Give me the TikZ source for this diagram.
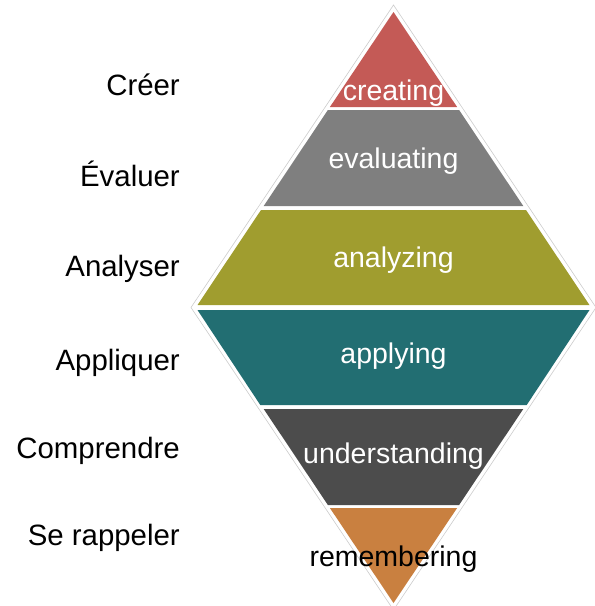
\documentclass[tikz,border=0pt]{standalone}
\usepackage{fontspec}
\setmainfont{Liberation Sans}
\usetikzlibrary{positioning}
\definecolor{creatingred}{HTML}{C45A56}
\definecolor{evalgray}{HTML}{7F7F7F}
\definecolor{analyzeolive}{HTML}{A09D2F}
\definecolor{applyteal}{HTML}{226E72}
\definecolor{understandgray}{HTML}{4C4C4C}
\definecolor{rememberorange}{HTML}{C98040}
\tikzset{
	frlabel/.style={anchor=base east, inner sep=0pt, font=\fontsize{29.4}{33}\selectfont, text=black},
	enlabel/.style={anchor=base, inner sep=0pt, font=\fontsize{28.5}{32}\selectfont, text=white},
}

\begin{document}
\begin{tikzpicture}[x=1pt, y=-1pt]
			%%%%% START %%%%%
			\useasboundingbox (0, 0) rectangle (595, 606);
			
			% thin outline round the diamond
			\draw[line width=0.6pt, color=black!20] (393.5, 5) -- (596, 307.5) -- (393.5, 610) -- (191, 307.5) -- cycle;
			
			% upper half
			\fill[creatingred] (393.5, 12) -- (457.1, 107) -- (329.9, 107) -- cycle;
			\fill[evalgray] (327.9, 110) -- (459.1, 110) -- (523.3, 206) -- (263.7, 206) -- cycle;
			\fill[analyzeolive] (261, 210) -- (526, 210) -- (589.5, 305) -- (197.5, 305) -- cycle;
			
			% lower half
			\fill[applyteal] (197.5, 310) -- (589.5, 310) -- (526.7, 405) -- (260.3, 405) -- cycle;
			\fill[understandgray] (263.7, 409) -- (523.3, 409) -- (459.1, 505) -- (327.9, 505) -- cycle;
			\fill[rememberorange] (329.9, 508) -- (457.1, 508) -- (393.5, 603) -- cycle;
			
			% level names
			\node[enlabel] (creating) at (393.5, 100) {creating};
			\node[enlabel] (evaluating) at (393.5, 168) {evaluating};
			\node[enlabel] (analyzing) at (393.5, 267.5) {analyzing};
			\node[enlabel] (applying) at (393.5, 363) {applying};
			\node[enlabel] (understanding) at (393.5, 463) {understanding};
			\node[enlabel, text=black] (remembering) at (393.5, 566.5) {remembering};
			
			% french names
			\node[frlabel] (creer) at (180, 95) {Créer};
			\node[frlabel] (evaluer) at (180, 186.5) {Évaluer};
			\node[frlabel] (analyser) at (180, 276.5) {Analyser};
			\node[frlabel] (appliquer) at (180, 370) {Appliquer};
			\node[frlabel] (comprendre) at (180, 458) {Comprendre};
			\node[frlabel] (rappeler) at (180, 545) {Se rappeler};
			
			%%%%% END %%%%%
		\end{tikzpicture}
\end{document}
